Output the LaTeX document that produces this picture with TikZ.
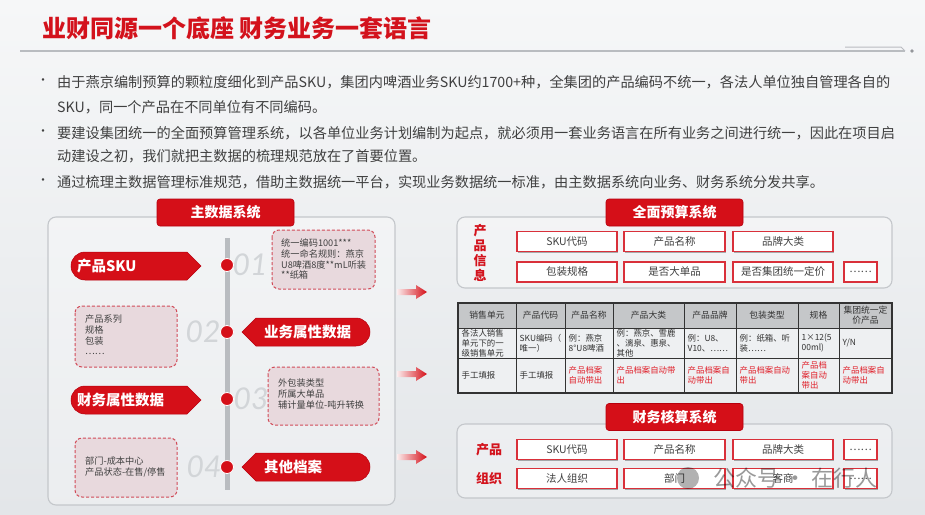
\documentclass[tikz,border=0pt]{standalone}
\usepackage{fontspec}
\setmainfont{Noto Sans CJK SC}
\newfontfamily\numfont{Lato}
\usetikzlibrary{shadows}
\definecolor{titlered}{HTML}{D3121C}
\definecolor{tagred}{HTML}{D50F18}
\definecolor{tagedge}{HTML}{B8000E}
\definecolor{boxred}{HTML}{D9303A}
\definecolor{dashred}{HTML}{D14B58}
\definecolor{dashfill}{HTML}{E8D9DD}
\definecolor{txtgray}{HTML}{404040}
\definecolor{panelline}{HTML}{C4C7CB}
\definecolor{bgtop}{HTML}{F6F7F8}
\definecolor{bgbot}{HTML}{E3E6E9}
\definecolor{numgray}{HTML}{D2D5D8}
\definecolor{linegray}{HTML}{B9BCC0}
\definecolor{tblhead}{HTML}{C5C7C9}
\definecolor{tblbody}{HTML}{EEF0F2}
\definecolor{tbltxt}{HTML}{333333}
\definecolor{tblred}{HTML}{E0202A}
\begin{document}
\begin{tikzpicture}[x=1pt,y=-1pt,
  bullettext/.style={anchor=west,inner sep=0,text=txtgray,font=\fontsize{14.2}{14.2}\selectfont},
  panel/.style={draw=panelline,line width=1.1,fill=white,fill opacity=0.3,rounded corners=8},
  hdr/.style={fill=tagred,draw=tagedge,line width=0.6,rounded corners=3,text=white,font=\bfseries\fontsize{14}{14}\selectfont,minimum width=137,minimum height=27,inner sep=0},
  tagtext/.style={text=white,font=\bfseries\fontsize{14.5}{14.5}\selectfont,inner sep=0,anchor=west},
  dbox/.style={draw=dashred,fill=dashfill,dash pattern=on 3pt off 2pt,line width=1,rounded corners=7},
  dtext/.style={anchor=north west,inner sep=0,align=left,text=txtgray,font=\fontsize{9.2}{10.6}\selectfont},
  bignum/.style={text=numgray,font=\numfont\itshape\fontsize{30}{30}\selectfont,inner sep=0},
  reddot/.style={circle,fill=tagred,draw=white,line width=0.8,minimum size=13,inner sep=0},
  fbox/.style={draw=boxred,line width=1.1,fill=white,minimum height=20,inner sep=0,text=txtgray,font=\fontsize{10.5}{10.5}\selectfont,drop shadow={shadow xshift=1.3pt,shadow yshift=-1.3pt,opacity=0.3,fill=black}},
  rlabel/.style={text=titlered,font=\bfseries\fontsize{13}{15}\selectfont,inner sep=0,align=center},
  thead/.style={text=tbltxt,font=\fontsize{8.8}{10}\selectfont,inner sep=0,align=center},
  tcell/.style={text=tbltxt,font=\fontsize{8.4}{9.8}\selectfont,inner sep=0,align=left,anchor=west},
  tred/.style={tcell,text=tblred}
]
\useasboundingbox (0,0) rectangle (925,514);
\shade[top color=bgtop,bottom color=bgbot] (0,0) rectangle (925,514);

% title and rule
\node[anchor=west,inner sep=0,text=titlered,font=\bfseries\fontsize{24}{24}\selectfont] (title) at (42,28) {业财同源一个底座 财务业务一套语言};
\coordinate (ruleL) at (20,51);
\coordinate (ruleR) at (905,51);
\draw[linegray,line width=1.2] (ruleL) -- (ruleR);
\draw[linegray,line width=1] (845,47) -- (901,47) -- (905,51);
\fill[linegray!80!black] (912,51) circle (1.8);

% bullets
\foreach \yy/\nm in {82/b1,133/b2,182/b3}{\node[text=txtgray,inner sep=0,font=\fontsize{12}{12}\selectfont] (\nm) at (43,\yy) {•};}
\node[bullettext] (l1) at (57,82) {由于燕京编制预算的颗粒度细化到产品SKU，集团内啤酒业务SKU约1700+种，全集团的产品编码不统一，各法人单位独自管理各自的};
\node[bullettext] (l2) at (57,107) {SKU，同一个产品在不同单位有不同编码。};
\node[bullettext] (l3) at (57,133) {要建设集团统一的全面预算管理系统，以各单位业务计划编制为起点，就必须用一套业务语言在所有业务之间进行统一，因此在项目启};
\node[bullettext] (l4) at (57,156) {动建设之初，我们就把主数据的梳理规范放在了首要位置。};
\node[bullettext] (l5) at (57,182) {通过梳理主数据管理标准规范，借助主数据统一平台，实现业务数据统一标准，由主数据系统向业务、财务系统分发共享。};

% ===== left panel =====
\draw[panel] (48,217) rectangle (395,505);
\node[hdr] (h1) at (225.5,212.5) {主数据系统};
\fill[linegray] (225,238) rectangle (229.5,490);

\node[bignum] (n1) at (250,265) {01};
\node[bignum] (n2) at (203,332) {02};
\node[bignum] (n3) at (251,399) {03};
\node[bignum] (n4) at (204,467) {04};

% dashed boxes
\draw[dbox] (272,230) rectangle (375,289);
\node[dtext] (d1) at (281,239) {统一编码1001***\\统一命名规则：燕京\\U8啤酒8度**mL听装\\**纸箱};
\draw[dbox] (75,306) rectangle (177,367);
\node[dtext] (d2) at (85,315) {产品系列\\规格\\包装\\……};
\draw[dbox] (268,367) rectangle (379,425);
\node[dtext] (d3) at (278,379) {外包装类型\\所属大单品\\辅计量单位-吨升转换};
\draw[dbox] (75,438) rectangle (177,497);
\node[dtext] (d4) at (85,457) {部门-成本中心\\产品状态-在售/停售};

% tags
\newcommand\lefttag[3]{%
  \filldraw[fill=tagred,draw=tagedge,line width=0.5] (85,#2-14) -- (187,#2-14) -- (201,#2) -- (187,#2+14) -- (85,#2+14) arc[start angle=90,end angle=270,radius=14] -- cycle;
  \node[tagtext] (#1) at (77,#2) {#3};}
\newcommand\righttag[3]{%
  \filldraw[fill=tagred,draw=tagedge,line width=0.5] (242,#2) -- (256,#2-14) -- (356,#2-14) arc[start angle=-90,end angle=90,radius=14] -- (256,#2+14) -- cycle;
  \node[tagtext] (#1) at (264,#2) {#3};}
\lefttag{tagA}{266}{产品SKU}
\righttag{tagB}{332}{业务属性数据}
\lefttag{tagC}{400}{财务属性数据}
\righttag{tagD}{467}{其他档案}

\node[reddot] (dot1) at (227,265) {};
\node[reddot] (dot2) at (227,332) {};
\node[reddot] (dot3) at (227,399) {};
\node[reddot] (dot4) at (227,467) {};

% arrows
\newcommand\gradarrow[1]{%
  \shade[left color=tagred!8,right color=tagred] (397,#1-3) -- (416,#1-3) -- (416,#1-7) -- (427,#1) -- (416,#1+7) -- (416,#1+3) -- (397,#1+3) -- cycle;}
\gradarrow{292}
\gradarrow{374}
\gradarrow{457}

% ===== top right panel =====
\draw[panel] (457,217) rectangle (892,288);
\node[hdr] (h2) at (674.5,212.5) {全面预算系统};
\node[rlabel] (lab1) at (480,253) {产\\品\\信\\息};
\node[fbox,minimum width=100] (p1) at (567,241.5) {SKU代码};
\node[fbox,minimum width=101] (p2) at (674.5,241.5) {产品名称};
\node[fbox,minimum width=100] (p3) at (783,241.5) {品牌大类};
\node[fbox,minimum width=100] (p4) at (567,272) {包装规格};
\node[fbox,minimum width=101] (p5) at (674.5,272) {是否大单品};
\node[fbox,minimum width=100] (p6) at (783,272) {是否集团统一定价};
\node[fbox,minimum width=33] (p7) at (860.5,272) {……};

% ===== table =====
\fill[tblhead] (458,303) rectangle (892,328);
\fill[tblbody] (458,328) rectangle (892,393);
\draw[tbltxt,line width=1.2] (458,303) rectangle (892,393);
\foreach \yy in {328,358}{\draw[tbltxt,line width=1] (458,\yy) -- (892,\yy);}
\foreach \xx in {516,565,613,684,736,798,839}{\draw[tbltxt,line width=1] (\xx,303) -- (\xx,393);}
\foreach \xa/\xb/\t [count=\i] in {458/516/销售单元,516/565/产品代码,565/613/产品名称,613/684/产品大类,684/736/产品品牌,736/798/包装类型,798/839/规格,839/892/{集团统一定\\价产品}}{
  \node[thead] (th\i) at ({(\xa+\xb)/2},315.5) {\t};}
\foreach \xa/\t [count=\i] in {458/{各法人销售\\单元下的一\\级销售单元},516/{SKU编码（\\唯一）},565/{例：燕京\\8°U8啤酒},613/{例：燕京、雪鹿\\、漓泉、惠泉、\\其他},684/{例：U8、\\V10、……},736/{例：纸箱、听\\装……},798/{1×12(5\\00ml)},839/{Y/N}}{
  \node[tcell] (tb\i) at (\xa+3.5,343) {\t};}
\node[tcell] (tc1) at (461.5,375.5) {手工填报};
\node[tcell] (tc2) at (519.5,375.5) {手工填报};
\foreach \xa/\t [count=\i from 3] in {565/{产品档案\\自动带出},613/{产品档案自动带\\出},684/{产品档案自\\动带出},736/{产品档案自动\\带出},798/{产品档\\案自动\\带出},839/{产品档案自\\动带出}}{
  \node[tred] (tc\i) at (\xa+3.5,375.5) {\t};}

% ===== bottom right panel =====
\draw[panel] (457,424) rectangle (892,498);
\node[hdr] (h3) at (674.5,417) {财务核算系统};
\node[rlabel] (lab2) at (489,449.5) {产品};
\node[rlabel] (lab3) at (489,478.5) {组织};
\node[fbox,minimum width=100] (q1) at (567,449.5) {SKU代码};
\node[fbox,minimum width=101] (q2) at (674.5,449.5) {产品名称};
\node[fbox,minimum width=100] (q3) at (783,449.5) {品牌大类};
\node[fbox,minimum width=33] (q4) at (860.5,449.5) {……};
\node[fbox,minimum width=100] (q5) at (567,478.5) {法人组织};
\node[fbox,minimum width=101] (q6) at (674.5,478.5) {部门};
\node[fbox,minimum width=100] (q7) at (783,478.5) {客商};
\node[fbox,minimum width=33] (q8) at (860.5,478.5) {……};

% watermark
\fill[black,opacity=0.3] (688,478) circle (11);
\node[anchor=west,inner sep=0,text=black,opacity=0.4,font=\fontsize{22}{22}\selectfont] (wm) at (713,478) {公众号 · 在行人};
\end{tikzpicture}
\end{document}
